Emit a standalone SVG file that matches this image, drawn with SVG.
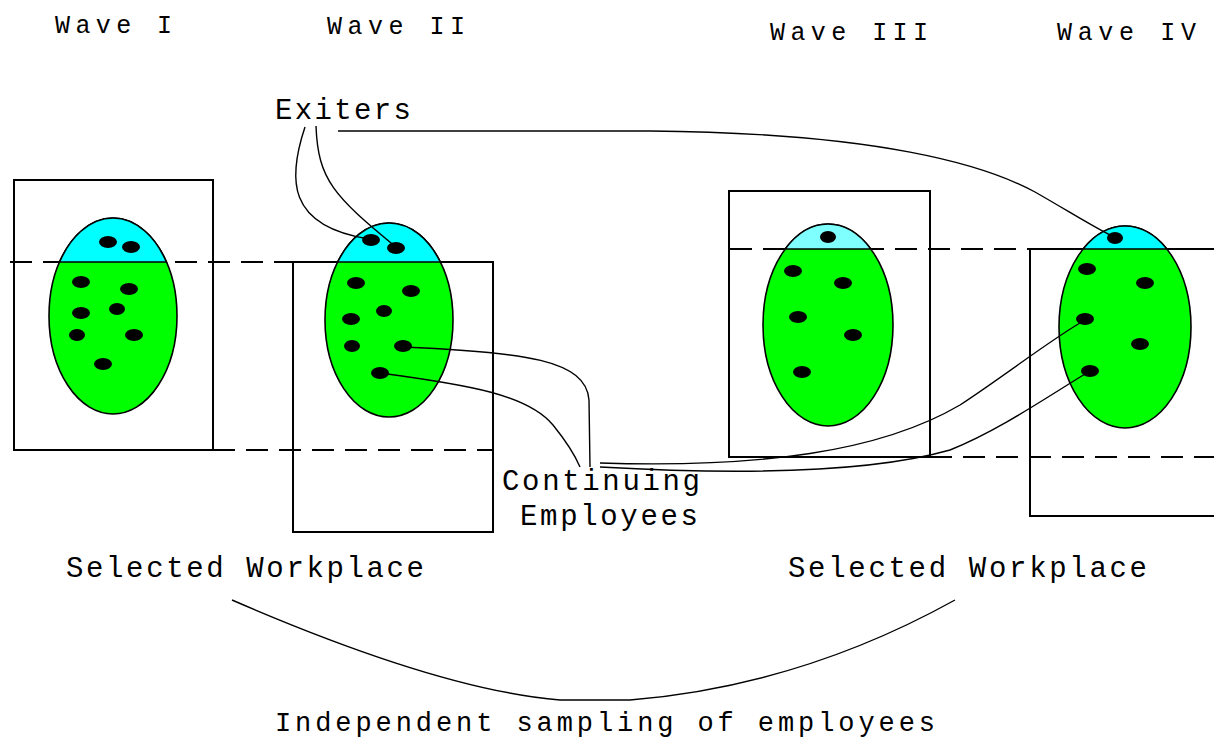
<svg xmlns="http://www.w3.org/2000/svg" width="1214" height="741" viewBox="0 0 1214 741">
<style>
  .box{fill:none;stroke:#000;stroke-width:2}
  .dash{fill:none;stroke:#000;stroke-width:2;stroke-dasharray:22 11}
  .ell{fill:#00ff00;stroke:#000;stroke-width:1.6}
  .cap{fill:#00ffff;stroke:#000;stroke-width:1.6}
  .cap2{fill:#80ffff;stroke:#000;stroke-width:1.6}
  .dot{fill:#000}
  .con{fill:none;stroke:#000;stroke-width:1.4}
  .lbl{font-family:"Liberation Mono","Courier New",monospace;font-size:29px;fill:#000}
  .bottom{font-size:27px}
  .wave{font-family:"Liberation Mono","Courier New",monospace;font-size:25px;fill:#000}
</style>
<rect width="1214" height="741" fill="#fff"/>

<g id="guides">
  <line class="dash" x1="10" y1="262" x2="293" y2="262"/>
  <line class="dash" x1="213" y1="450" x2="493" y2="450"/>
  <line class="dash" x1="730" y1="249" x2="1030" y2="249"/>
  <line class="dash" x1="930" y1="457" x2="1214" y2="457"/>
</g>

<g id="wave1">
  <text class="wave" x="55" y="33" textLength="117" lengthAdjust="spacing">Wave I</text>
  <rect class="box" x="14" y="180" width="199" height="270"/>
  <ellipse class="ell" cx="113" cy="316" rx="64" ry="98"/>
  <path class="cap" d="M59.6,262 A64,98 0 0,1 166.4,262 Z"/>
  <g class="dot">
    <ellipse cx="108" cy="242" rx="9" ry="6"/><ellipse cx="131" cy="247" rx="9" ry="6"/>
    <ellipse cx="81" cy="282" rx="9" ry="6"/><ellipse cx="129" cy="289" rx="9" ry="6"/>
    <ellipse cx="81" cy="313" rx="9" ry="6"/><ellipse cx="117" cy="309" rx="8" ry="6"/>
    <ellipse cx="77" cy="335" rx="8" ry="6"/><ellipse cx="134" cy="335" rx="9" ry="6"/>
    <ellipse cx="103" cy="364" rx="9" ry="6"/>
  </g>
</g>

<g id="wave2">
  <text class="wave" x="327" y="34" textLength="138" lengthAdjust="spacing">Wave II</text>
  <rect class="box" x="293" y="262" width="200" height="270"/>
  <ellipse class="ell" cx="389" cy="320" rx="64" ry="97"/>
  <path class="cap" d="M337.7,262 A64,97 0 0,1 440.3,262 Z"/>
  <g class="dot">
    <ellipse cx="371" cy="240" rx="9" ry="6"/><ellipse cx="396" cy="248" rx="9" ry="6"/>
    <ellipse cx="356" cy="283" rx="9" ry="6"/><ellipse cx="411" cy="291" rx="9" ry="6"/>
    <ellipse cx="351" cy="319" rx="9" ry="6"/><ellipse cx="384" cy="311" rx="8" ry="6"/>
    <ellipse cx="352" cy="346" rx="8" ry="6"/><ellipse cx="403" cy="346" rx="9" ry="6"/>
    <ellipse cx="380" cy="373" rx="9" ry="6"/>
  </g>
</g>

<g id="wave3">
  <text class="wave" x="770" y="40" textLength="158" lengthAdjust="spacing">Wave III</text>
  <rect class="box" x="729" y="191" width="201" height="266"/>
  <ellipse class="ell" cx="828" cy="325" rx="65" ry="101"/>
  <path class="cap2" d="M785.2,249 A65,101 0 0,1 870.8,249 Z"/>
  <g class="dot">
    <ellipse cx="828" cy="237" rx="8" ry="6"/><ellipse cx="793" cy="271" rx="9" ry="6"/>
    <ellipse cx="843" cy="283" rx="9" ry="6"/><ellipse cx="798" cy="317" rx="9" ry="6"/>
    <ellipse cx="853" cy="335" rx="9" ry="6"/><ellipse cx="802" cy="372" rx="9" ry="6"/>
  </g>
</g>

<g id="wave4">
  <text class="wave" x="1057" y="40" textLength="139" lengthAdjust="spacing">Wave IV</text>
  <polyline class="box" points="1214,249 1030,249 1030,516 1214,516"/>
  <ellipse class="ell" cx="1125" cy="327" rx="66" ry="101"/>
  <path class="cap" d="M1083.1,249 A66,101 0 0,1 1166.9,249 Z"/>
  <g class="dot">
    <ellipse cx="1115" cy="238" rx="8" ry="6"/><ellipse cx="1087" cy="269" rx="9" ry="6"/>
    <ellipse cx="1145" cy="283" rx="9" ry="6"/><ellipse cx="1085" cy="319" rx="9" ry="6"/>
    <ellipse cx="1140" cy="344" rx="9" ry="6"/><ellipse cx="1090" cy="371" rx="9" ry="6"/>
  </g>
</g>

<g id="connectors">
  <path class="con" d="M305,127 C288,178 286,226 369,239"/>
  <path class="con" d="M316,126 C318,180 334,196 396,247"/>
  <path class="con" d="M338,131 H650 C880,133 985,165 1035,192 C1070,212 1095,228 1114,237"/>
  <path class="con" d="M403,347 C525,352 586,360 589,400 L590,467"/>
  <path class="con" d="M380,373 C470,385 528,395 553,425 C570,446 577,460 580,467"/>
  <path class="con" d="M600,463 C760,468 880,452 960,405 C1010,372 1050,340 1085,320"/>
  <path class="con" d="M600,467 C760,476 880,470 950,450 C1000,430 1050,395 1090,371"/>
  <path class="con" d="M232,600 Q440,690 560,700 L630,700 Q800,686 955,600"/>
</g>

<g id="labels">
  <text class="lbl" x="275" y="119" textLength="136" lengthAdjust="spacing">Exiters</text>
  <text class="lbl" x="502" y="490" textLength="198" lengthAdjust="spacing">Continuing</text>
  <text class="lbl" x="520" y="525" textLength="178" lengthAdjust="spacing">Employees</text>
  <text class="lbl" x="66" y="577" textLength="358" lengthAdjust="spacing">Selected Workplace</text>
  <text class="lbl" x="788" y="577" textLength="359" lengthAdjust="spacing">Selected Workplace</text>
  <text class="lbl bottom" x="275" y="731" textLength="660" lengthAdjust="spacing">Independent sampling of employees</text>
</g>
</svg>
